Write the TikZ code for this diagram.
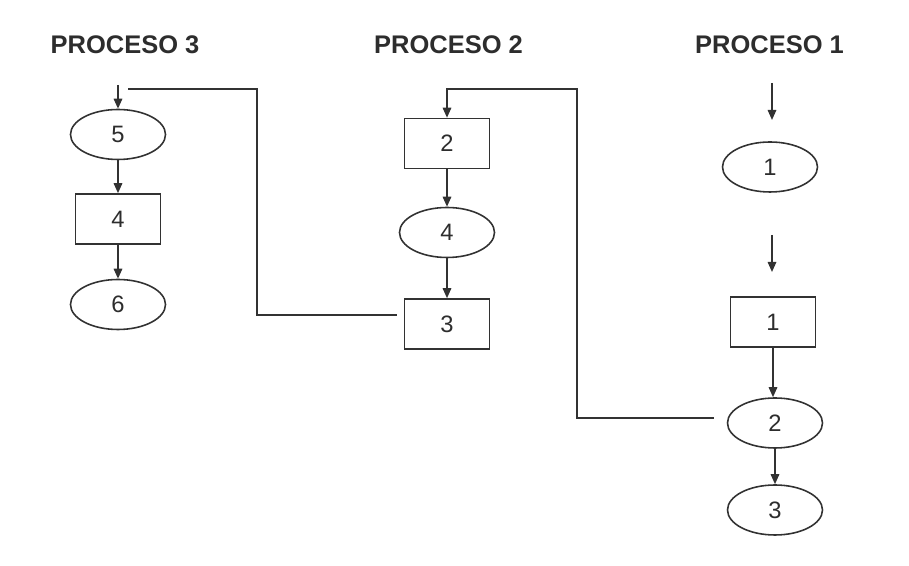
\documentclass[tikz,border=0pt]{standalone}
\usepackage{fontspec}
\setmainfont{Liberation Sans}
\usetikzlibrary{shapes.geometric,arrows.meta,positioning}
\definecolor{linegray}{RGB}{50,50,50}
\definecolor{textgray}{RGB}{45,45,45}
\tikzset{
    title/.style={font=\fontsize{14.5}{17}\selectfont\bfseries, text=textgray},
    stepbox/.style={rectangle, draw=linegray, line width=0.9pt, minimum width=1.7cm, minimum height=1cm, inner sep=0pt, font=\fontsize{13.5}{16}\selectfont, text=textgray},
    stepoval/.style={ellipse, draw=linegray, line width=0.9pt, minimum width=1.9cm, minimum height=1cm, inner sep=0pt, font=\fontsize{13.5}{16}\selectfont, text=textgray},
    arrow/.style={draw=linegray, line width=0.9pt, -{Triangle[length=2mm,width=1.7mm]}},
    link/.style={draw=linegray, line width=0.9pt}
}
\begin{document}
\begin{tikzpicture}

\useasboundingbox (0,0) rectangle (18.18,11.32);

% Titles
\node[title] (t3) at (2.50,10.42) {PROCESO 3};
\node[title] (t2) at (8.97,10.42) {PROCESO 2};
\node[title] (t1) at (15.39,10.42) {PROCESO 1};

% Proceso 3
\coordinate (in5) at (2.36,9.62);
\node[stepoval] (p3e5) at (2.36,8.63) {5};
\node[stepbox] (p3b4) at (2.36,6.94) {4};
\node[stepoval] (p3e6) at (2.36,5.23) {6};

% Proceso 2
\node[stepbox] (p2b2) at (8.94,8.45) {2};
\node[stepoval] (p2e4) at (8.94,6.67) {4};
\node[stepbox] (p2b3) at (8.94,4.84) {3};

% Proceso 1
\coordinate (in1a) at (15.44,9.66);
\coordinate (in1b) at (15.44,8.92);
\node[stepoval] (p1e1) at (15.40,7.98) {1};
\coordinate (in2a) at (15.44,6.62);
\coordinate (in2b) at (15.44,5.88);
\node[stepbox] (p1b1) at (15.46,4.88) {1};
\node[stepoval] (p1e2) at (15.50,2.86) {2};
\node[stepoval] (p1e3) at (15.50,1.12) {3};

% Turning points of the links
\coordinate (turn3) at (5.14,9.54);
\coordinate (end3) at (2.56,9.54);
\coordinate (turn2) at (11.54,9.54);

% Flow arrows
\draw[arrow] (in5) -- (p3e5);
\draw[arrow] (p3e5) -- (p3b4);
\draw[arrow] (p3b4) -- (p3e6);
\draw[arrow] (p2b2) -- (p2e4);
\draw[arrow] (p2e4) -- (p2b3);
\draw[arrow] (in1a) -- (in1b);
\draw[arrow] (in2a) -- (in2b);
\draw[arrow] (p1b1.south) -- (p1b1.south |- p1e2.north);
\draw[arrow] (p1e2) -- (p1e3);

% Links between processes
\draw[link, shorten <=0.14cm] ([yshift=0.18cm]p2b3.west) -| (turn3) -- (end3);
\draw[arrow, shorten <=0.26cm] ([yshift=0.1cm]p1e2.west) -| (turn2) -| (p2b2.north);

\end{tikzpicture}
\end{document}
